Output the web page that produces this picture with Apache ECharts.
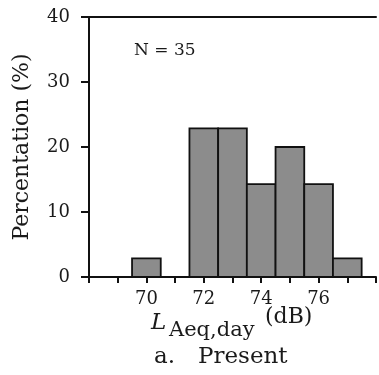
<!DOCTYPE html>
<html><head><meta charset="utf-8">
<script src="https://cdn.jsdelivr.net/npm/echarts@6/dist/echarts.min.js"></script>
<style>html,body{margin:0;padding:0;background:#fff}#c{width:379px;height:375px}</style>
</head><body><div id="c"></div>
<script>
// Data
const binCenters = [70, 72, 73, 74, 75, 76, 77];      // L_Aeq,day (dB), bin width 1 dB
const percentages = [2.86, 22.86, 22.86, 14.29, 20.0, 14.29, 2.86]; // %
const xTickLabels = [70, 72, 74, 76];
const yTicks = [0, 10, 20, 30, 40];

const F = '"DejaVu Serif", "Liberation Serif", serif';
const chart = echarts.init(document.getElementById('c'), null, {renderer: 'canvas'});
const data = binCenters.map((c, i) => [c, percentages[i]]);

chart.setOption({
  animation: false,
  backgroundColor: '#fff',
  grid: {left: 89, top: 17, right: 0, bottom: 98, containLabel: false},
  xAxis: [{
    type: 'value', min: 68, max: 78, interval: 1,
    axisLine: {show: true, lineStyle: {color: '#111', width: 2}},
    axisTick: {show: true, inside: false, length: 6, lineStyle: {color: '#111', width: 2}},
    axisLabel: {
      show: true, margin: 13, fontFamily: F, fontSize: 18, color: '#1a1a1a',
      formatter: v => xTickLabels.indexOf(v) >= 0 ? String(v) : ''
    },
    splitLine: {show: false}
  }, {
    type: 'value', position: 'top', min: 68, max: 78,
    axisLine: {show: true, lineStyle: {color: '#111', width: 2}},
    axisTick: {show: false}, axisLabel: {show: false}, splitLine: {show: false}
  }],
  yAxis: {
    type: 'value', min: 0, max: 40, interval: 10,
    name: 'Percentation (%)', nameLocation: 'middle', nameGap: 56,
    nameTextStyle: {fontFamily: F, fontSize: 22, color: '#1a1a1a'},
    axisLine: {show: true, lineStyle: {color: '#111', width: 2}},
    axisTick: {show: true, inside: false, length: 8, lineStyle: {color: '#111', width: 2}},
    axisLabel: {margin: 19, fontFamily: F, fontSize: 18, color: '#1a1a1a',
      formatter: v => yTicks.indexOf(v) >= 0 ? String(v) : ''},
    splitLine: {show: false}
  },
  series: [{
    type: 'custom',
    data: data,
    renderItem: function (params, api) {
      const c = api.value(0), v = api.value(1);
      const p1 = api.coord([c - 0.5, v]);
      const p2 = api.coord([c + 0.5, 0]);
      return {
        type: 'rect',
        shape: {x: p1[0], y: p1[1], width: p2[0] - p1[0], height: p2[1] - p1[1]},
        style: {fill: '#8c8c8c', stroke: '#111', lineWidth: 1.8}
      };
    },
    encode: {x: 0, y: 1}
  }],
  graphic: [
    {type: 'text', left: 134, top: 42, style: {text: 'N = 35', font: '17px ' + F, fill: '#1a1a1a'}},
    {type: 'text', left: 151, top: 312, style: {text: 'L', font: 'italic 23px ' + F, fill: '#1a1a1a'}},
    {type: 'text', left: 169, top: 320, style: {text: 'Aeq,day', font: '21px ' + F, fill: '#1a1a1a'}},
    {type: 'text', left: 265, top: 306, style: {text: '(dB)', font: '22px ' + F, fill: '#1a1a1a'}},
    {type: 'text', left: 154, top: 346, style: {text: 'a.', font: '23px ' + F, fill: '#1a1a1a'}},
    {type: 'text', left: 198, top: 346, style: {text: 'Present', font: '23px ' + F, fill: '#1a1a1a'}}
  ]
});
</script></body></html>
